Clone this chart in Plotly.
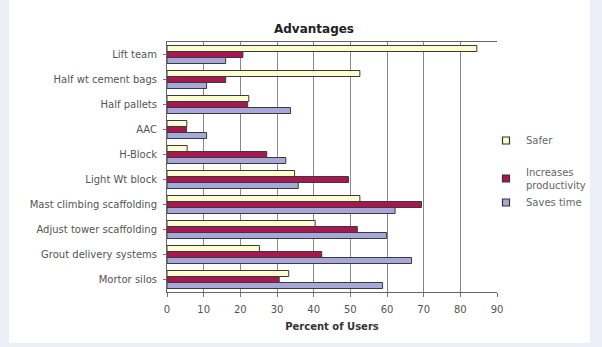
import plotly.graph_objects as go

categories = ["Lift team", "Half wt cement bags", "Half pallets", "AAC", "H-Block",
              "Light Wt block", "Mast climbing scaffolding", "Adjust tower scaffolding",
              "Grout delivery systems", "Mortor silos"]
safer = [84.5, 52.6, 22.3, 5.4, 5.5, 34.8, 52.6, 40.4, 25.2, 33.2]
productivity = [20.7, 16.0, 22.0, 5.3, 27.2, 49.5, 69.4, 51.9, 42.2, 30.6]
saves_time = [16.0, 10.8, 33.7, 10.8, 32.4, 35.8, 62.2, 59.9, 66.7, 58.8]
x_ticks = [0, 10, 20, 30, 40, 50, 60, 70, 80, 90]

series = [
    ("Safer", safer, "#fdfdd0", "a"),
    ("Increases<br>productivity", productivity, "#a8174f", "b"),
    ("Saves time", saves_time, "#a7a7d9", "b"),
]

FONT = "DejaVu Sans, Liberation Sans, Arial, sans-serif"

fig = go.Figure()
for name, vals, col, grp in series:
    fig.add_trace(go.Bar(
        y=categories, x=vals, name=name, orientation="h",
        marker=dict(color=col, line=dict(color="#3a3a3a", width=1)),
        showlegend=False,
    ))
# legend keys (small square markers, no data)
for name, vals, col, grp in series:
    fig.add_trace(go.Scatter(
        x=[None], y=[None], mode="markers", name=name, legendgroup=grp,
        marker=dict(symbol="square", size=7, color=col,
                    line=dict(color="#333", width=1.2)),
    ))

W, H = 602, 347
L, R, T, B = 167, 105, 42, 55
PW, PH = W - L - R, H - T - B

fig.update_layout(
    width=W, height=H,
    margin=dict(l=L, r=R, t=T, b=B, autoexpand=False),
    paper_bgcolor="#eceff8",
    plot_bgcolor="white",
    barmode="group",
    bargap=0.28,
    bargroupgap=0,
    font=dict(family=FONT, size=10, color="#555"),
    title=dict(text="<b>Advantages</b>", x=314 / W, xanchor="center",
               y=1 - 29 / H, yanchor="middle",
               font=dict(family=FONT, size=12, color="#222")),
    legend=dict(x=(486 - L) / PW, xanchor="left",
                y=(H - B - 126) / PH, yanchor="top",
                bgcolor="rgba(0,0,0,0)", font=dict(family=FONT, size=10, color="#666"),
                traceorder="grouped", tracegroupgap=14,
                itemwidth=30),
    shapes=[dict(type="rect", xref="paper", yref="paper",
                 x0=-(L - 9) / PW, x1=1 + (590 - (W - R)) / PW,
                 y0=-(B - 4) / PH, y1=1 + T / PH,
                 fillcolor="white", line=dict(width=0), layer="below")],
    showlegend=True,
)

fig.update_xaxes(range=[0, 90], tickvals=x_ticks, ticktext=[str(t) for t in x_ticks],
                 showgrid=True, gridcolor="#8a8a8a", gridwidth=1,
                 showline=True, linecolor="#666", mirror=True,
                 ticks="outside", ticklen=4, tickcolor="#777",
                 tickfont=dict(family=FONT, size=10, color="#555"),
                 ticklabelstandoff=4,
                 zeroline=False,
                 title=dict(text="<b>Percent of Users</b>", standoff=8,
                            font=dict(family=FONT, size=10, color="#333")))
fig.update_yaxes(autorange="reversed", showline=True, linecolor="#666",
                 ticks="outside", ticklen=3, tickcolor="#777",
                 tickfont=dict(family=FONT, size=10, color="#555"),
                 ticklabelstandoff=4,
                 showgrid=False)

fig.write_html("out.html")
